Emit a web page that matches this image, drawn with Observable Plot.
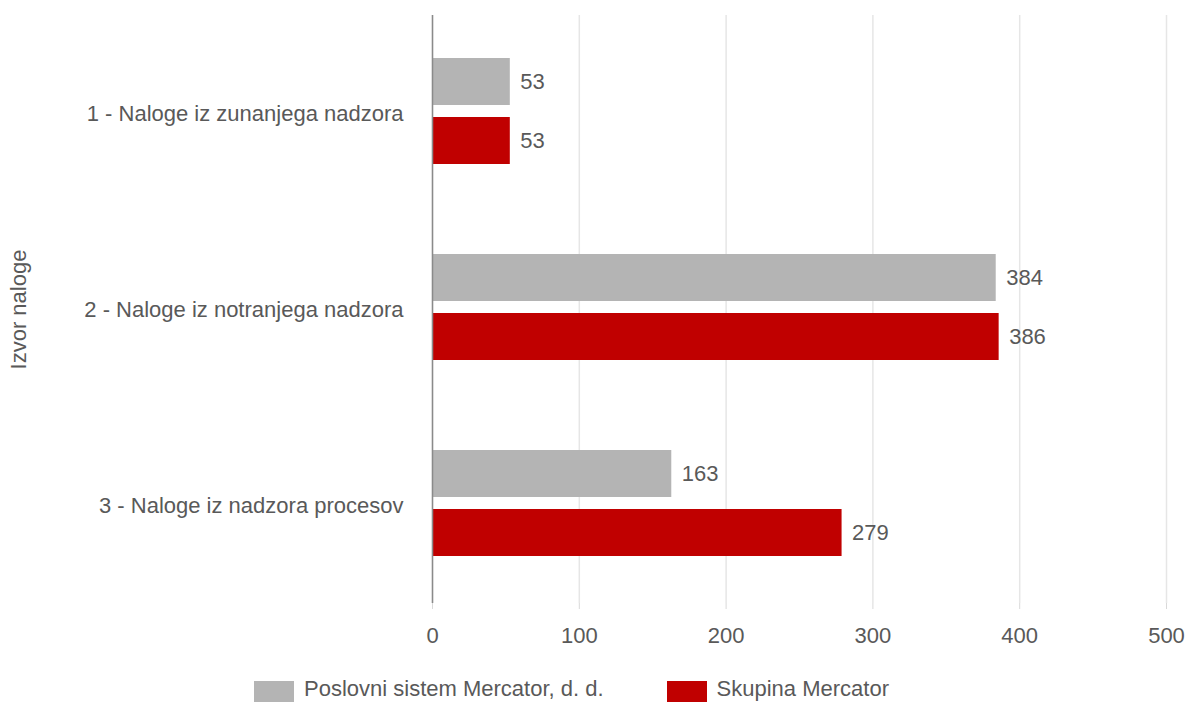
<!DOCTYPE html>
<html>
<head>
<meta charset="utf-8">
<script src="https://cdn.jsdelivr.net/npm/d3@7"></script>
<script src="https://cdn.jsdelivr.net/npm/@observablehq/plot@0.6"></script>
<style>
  html, body { margin: 0; padding: 0; background: #fff; }
  body { width: 1185px; height: 702px; overflow: hidden; font-family: "Liberation Sans", Arial, sans-serif; }
  .legend { display: flex; align-items: flex-start; padding-left: 254px; margin-top: 5px; gap: 63px; }
  .item { display: flex; align-items: flex-start; gap: 10px; font-size: 22px; line-height: 22px; color: #595959; }
  .sw { width: 40px; height: 24px; }
  .item span.t { position: relative; top: -3px; }
</style>
</head>
<body>
<div id="chart"></div>
<div class="legend" id="legend"></div>
<script>
const categories = [
  "1 - Naloge iz zunanjega nadzora",
  "2 - Naloge iz notranjega nadzora",
  "3 - Naloge iz nadzora procesov"
];
const series = ["Poslovni sistem Mercator, d. d.", "Skupina Mercator"];
const valuesPoslovni = [53, 384, 163];
const valuesSkupina = [53, 386, 279];
const seriesColors = ["#b4b4b4", "#c00000"];
const xTicks = [0, 100, 200, 300, 400, 500];
const yLabel = "Izvor naloge";

const rows = [];
categories.forEach((c, i) => {
  rows.push({category: c, series: series[0], value: valuesPoslovni[i]});
  rows.push({category: c, series: series[1], value: valuesSkupina[i]});
});

const FS = 22;
const chart = Plot.plot({
  width: 1185,
  height: 676,
  marginTop: 14,
  marginBottom: 73,
  marginLeft: 432,
  marginRight: 19,
  style: {fontFamily: "Liberation Sans, Arial, sans-serif", fontSize: FS + "px", color: "#595959", background: "white"},
  x: {domain: [0, 500]},
  fy: {domain: categories, padding: 0},
  y: {domain: series, paddingInner: 0.2, paddingOuter: 0.74, align: 0.48, axis: null},
  color: {domain: series, range: seriesColors},
  marks: [
    Plot.gridX(xTicks, {stroke: "#e6e6e6", strokeOpacity: 1, strokeWidth: 1.5}),
    Plot.axisX(xTicks, {tickSize: 6, tickPadding: 18, stroke: "#d9d9d9", fill: "#595959", fontSize: FS, label: null}),
    Plot.axisFy({anchor: "left", tickSize: 0, tickPadding: 29, fill: "#595959", fontSize: FS, label: yLabel, labelAnchor: "center", labelOffset: 422}),
    Plot.barX(rows, {x: "value", y: "series", fy: "category", fill: "series"}),
    Plot.text(rows, {x: "value", y: "series", fy: "category", text: d => String(d.value), dx: 10, textAnchor: "start", fill: "#595959", fontSize: FS}),
    Plot.ruleX([0], {stroke: "#8a8a8a", strokeWidth: 1.5})
  ]
});
document.getElementById("chart").appendChild(chart);

const legend = document.getElementById("legend");
series.forEach((s, i) => {
  const item = document.createElement("div");
  item.className = "item";
  const sw = document.createElement("div");
  sw.className = "sw";
  sw.style.background = seriesColors[i];
  const t = document.createElement("span");
  t.className = "t";
  t.textContent = s;
  item.appendChild(sw);
  item.appendChild(t);
  legend.appendChild(item);
});
</script>
</body>
</html>
